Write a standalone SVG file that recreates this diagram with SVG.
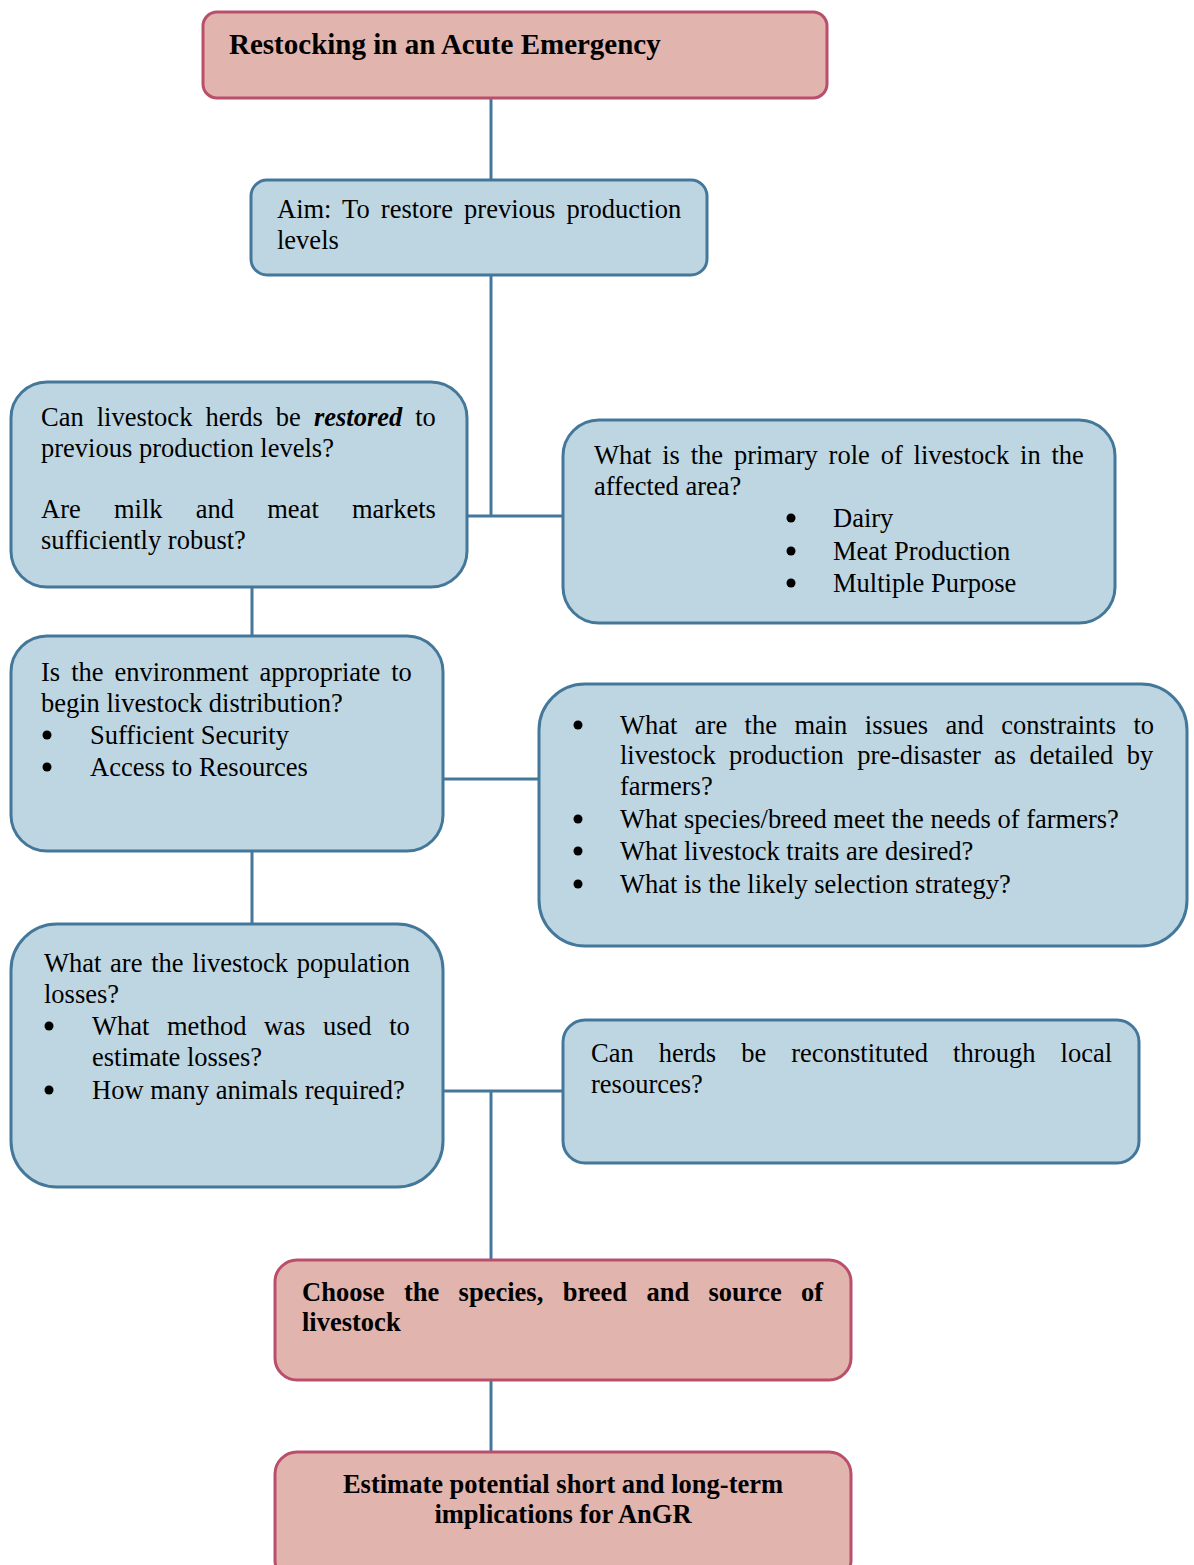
<svg xmlns="http://www.w3.org/2000/svg" width="1194" height="1565" viewBox="0 0 1194 1565">
  <style>
    .blue { fill: #bed6e2; stroke: #44789a; stroke-width: 3; }
    .pink { fill: #e1b4ae; stroke: #b94f6b; stroke-width: 3; }
    .wire { stroke: #44789a; stroke-width: 3; fill: none; }
    .dot { fill: #000; }
    text { font-family: "Liberation Serif", "Times New Roman", serif; font-size: 26.5px; fill: #000; }
    .b { font-weight: bold; }
    .title { font-weight: bold; font-size: 29px; }
  </style>

  <g id="connectors">
    <line class="wire" x1="491" y1="98" x2="491" y2="180"/>
    <line class="wire" x1="491" y1="275" x2="491" y2="516"/>
    <line class="wire" x1="467" y1="516" x2="563" y2="516"/>
    <line class="wire" x1="252" y1="587" x2="252" y2="636"/>
    <line class="wire" x1="443" y1="779" x2="539" y2="779"/>
    <line class="wire" x1="252" y1="851" x2="252" y2="924"/>
    <line class="wire" x1="443" y1="1091" x2="563" y2="1091"/>
    <line class="wire" x1="491" y1="1091" x2="491" y2="1260"/>
    <line class="wire" x1="491" y1="1380" x2="491" y2="1452"/>
  </g>

  <g id="title">
    <rect class="pink" x="203" y="12" width="624" height="86" rx="14"/>
    <text class="title" x="229" y="54">Restocking in an Acute Emergency</text>
  </g>

  <g id="aim">
    <rect class="blue" x="251" y="180" width="456" height="95" rx="16"/>
    <text x="277" y="218" word-spacing="4.5">Aim: To restore previous production</text>
    <text x="277" y="249">levels</text>
  </g>

  <g id="restored">
    <rect class="blue" x="11" y="382" width="456" height="205" rx="36"/>
    <text x="41" y="426" word-spacing="6.4">Can livestock herds be <tspan font-weight="bold" font-style="italic">restored</tspan> to</text>
    <text x="41" y="457">previous production levels?</text>
    <text x="41" y="518" word-spacing="26.6">Are milk and meat markets</text>
    <text x="41" y="549">sufficiently robust?</text>
  </g>

  <g id="primary-role">
    <rect class="blue" x="563" y="420" width="552" height="203" rx="36"/>
    <text x="594" y="464" word-spacing="4.2">What is the primary role of livestock in the</text>
    <text x="594" y="495">affected area?</text>
    <circle class="dot" cx="791" cy="518" r="4.5"/><text x="833" y="527">Dairy</text>
    <circle class="dot" cx="791" cy="551" r="4.5"/><text x="833" y="560">Meat Production</text>
    <circle class="dot" cx="791" cy="583" r="4.5"/><text x="833" y="592">Multiple Purpose</text>
  </g>

  <g id="environment">
    <rect class="blue" x="11" y="636" width="432" height="215" rx="36"/>
    <text x="41" y="681" word-spacing="4.4">Is the environment appropriate to</text>
    <text x="41" y="712">begin livestock distribution?</text>
    <circle class="dot" cx="47" cy="735" r="4.5"/><text x="90" y="744">Sufficient Security</text>
    <circle class="dot" cx="47" cy="767" r="4.5"/><text x="90" y="776">Access to Resources</text>
  </g>

  <g id="constraints">
    <rect class="blue" x="539" y="684" width="648" height="262" rx="46"/>
    <circle class="dot" cx="578" cy="725" r="4.5"/>
    <text x="620" y="734" word-spacing="10.8">What are the main issues and constraints to</text>
    <text x="620" y="764" word-spacing="6.7">livestock production pre-disaster as detailed by</text>
    <text x="620" y="795">farmers?</text>
    <circle class="dot" cx="578" cy="819" r="4.5"/><text x="620" y="828">What species/breed meet the needs of farmers?</text>
    <circle class="dot" cx="578" cy="851" r="4.5"/><text x="620" y="860">What livestock traits are desired?</text>
    <circle class="dot" cx="578" cy="884" r="4.5"/><text x="620" y="893">What is the likely selection strategy?</text>
  </g>

  <g id="losses">
    <rect class="blue" x="11" y="924" width="432" height="263" rx="46"/>
    <text x="44" y="972" word-spacing="2.1">What are the livestock population</text>
    <text x="44" y="1003">losses?</text>
    <circle class="dot" cx="49" cy="1026" r="4.5"/><text x="92" y="1035" word-spacing="11">What method was used to</text>
    <text x="92" y="1066">estimate losses?</text>
    <circle class="dot" cx="49" cy="1090" r="4.5"/><text x="92" y="1099">How many animals required?</text>
  </g>

  <g id="local-resources">
    <rect class="blue" x="563" y="1020" width="576" height="143" rx="22"/>
    <text x="591" y="1062" word-spacing="18.4">Can herds be reconstituted through local</text>
    <text x="591" y="1093">resources?</text>
  </g>

  <g id="choose">
    <rect class="pink" x="275" y="1260" width="576" height="120" rx="22"/>
    <text class="b" x="302" y="1301" word-spacing="12.8">Choose the species, breed and source of</text>
    <text class="b" x="302" y="1331">livestock</text>
  </g>

  <g id="estimate">
    <rect class="pink" x="275" y="1452" width="576" height="130" rx="22"/>
    <text class="b" x="563" y="1493" text-anchor="middle">Estimate potential short and long-term</text>
    <text class="b" x="563" y="1523" text-anchor="middle">implications for AnGR</text>
  </g>
</svg>
